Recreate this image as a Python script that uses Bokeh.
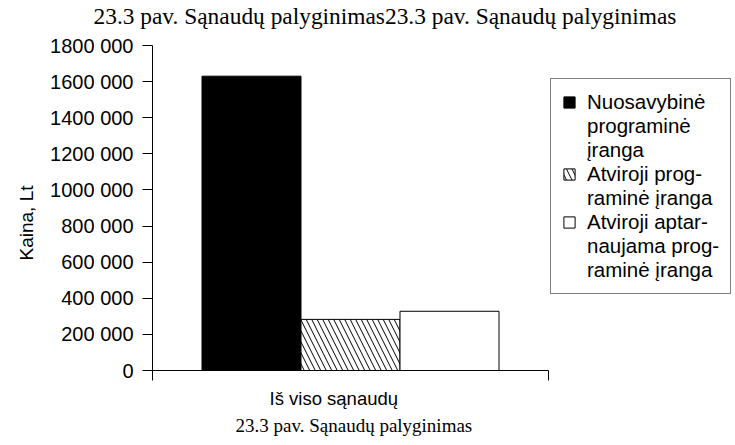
from bokeh.plotting import figure
from bokeh.models import Range1d, FixedTicker, Legend, LegendItem, Title
from bokeh.embed import file_html
from bokeh.resources import INLINE

# ---- data ----
title_text = "23.3 pav. Sąnaudų palyginimas23.3 pav. Sąnaudų palyginimas"
caption_text = "23.3 pav. Sąnaudų palyginimas"
category = "Iš viso sąnaudų"
y_axis_title = "Kaina, Lt"
series_names = [
    ["Nuosavybinė", "programinė", "įranga"],
    ["Atviroji prog-", "raminė įranga"],
    ["Atviroji aptar-", "naujama prog-", "raminė įranga"],
]
series_values = [1630000, 283000, 328000]
y_ticks = [0, 200000, 400000, 600000, 800000, 1000000, 1200000, 1400000, 1600000, 1800000]
y_tick_labels = ["0", "200 000", "400 000", "600 000", "800 000", "1000 000",
                 "1200 000", "1400 000", "1600 000", "1800 000"]

# ---- layout (picture px) ----
W, H = 735, 445
FL, FT, FB = 152, 28, 370      # frame left / top / bottom
AX_T = 45                       # y position of the top tick
AX_R = 548                      # right end of the x axis
YMAX = 1800000
x_end = (W - FL) / (AX_R - FL)
y_end = YMAX * (FB - FT) / (FB - AX_T)

p = figure(width=W, height=H, output_backend="svg", toolbar_location=None,
           x_range=Range1d(0, x_end), y_range=Range1d(0, y_end),
           min_border_left=FL, min_border_right=0,
           min_border_top=FT, min_border_bottom=H - FB)
p.outline_line_color = None
p.xgrid.visible = False
p.ygrid.visible = False
p.background_fill_color = "white"
p.border_fill_color = "white"

styles = [
    dict(fill_color="black", hatch_pattern=None),
    dict(fill_color="white", hatch_pattern="\\"),
    dict(fill_color="white", hatch_pattern=None),
]
n = len(series_values)
bw = 0.75 / n
items = []
blank = p.vbar(x=[], top=[], width=bw, fill_alpha=0, line_alpha=0)
for i, (lines, v, st) in enumerate(zip(series_names, series_values, styles)):
    xc = 0.125 + bw * (i + 0.5)
    kw = dict(x=[xc], top=[v], width=bw, bottom=0, line_color="black", line_width=1,
              fill_color=st["fill_color"])
    if st["hatch_pattern"]:
        kw.update(hatch_pattern=st["hatch_pattern"], hatch_color="black",
                  hatch_weight=1, hatch_scale=11, hatch_alpha=1)
    r = p.vbar(**kw)
    items.append(LegendItem(label=lines[0], renderers=[r]))
    for extra in lines[1:]:
        items.append(LegendItem(label=extra, renderers=[blank]))

# axes
yax = p.yaxis[0]
yax.bounds = (0, YMAX)
yax.ticker = FixedTicker(ticks=y_ticks)
yax.major_label_overrides = {t: l for t, l in zip(y_ticks, y_tick_labels)}
yax.minor_tick_line_color = None
yax.major_tick_in = 0
yax.major_tick_out = 10
yax.axis_line_color = "black"
yax.major_tick_line_color = "black"
yax.major_label_text_font = "Liberation Sans"
yax.major_label_text_font_size = "20px"
yax.major_label_text_color = "black"
yax.major_label_standoff = 9

xax = p.xaxis[0]
xax.bounds = (0, 1)
xax.ticker = FixedTicker(ticks=[0, 1])
xax.major_label_overrides = {0: "", 1: ""}
xax.major_label_text_font_size = "1px"
xax.major_label_standoff = 0
xax.minor_tick_line_color = None
xax.major_tick_in = 0
xax.major_tick_out = 10
xax.axis_line_color = "black"
xax.major_tick_line_color = "black"

# titles
p.add_layout(Title(text=title_text, align="left", offset=93 - FL,
                   text_font="Liberation Serif", text_font_size="23.4px",
                   text_font_style="normal", text_color="black", standoff=0), "above")
p.add_layout(Title(text=category, align="left", offset=269 - FL,
                   text_font="Liberation Sans", text_font_size="18.5px",
                   text_font_style="normal", text_color="black", standoff=10), "below")
p.add_layout(Title(text=caption_text, align="left", offset=235 - FL,
                   text_font="Liberation Serif", text_font_size="19px",
                   text_font_style="normal", text_color="black", standoff=-1), "below")
p.add_layout(Title(text=y_axis_title, align="left", offset=FB - 260,
                   text_font="Liberation Sans", text_font_size="19px",
                   text_font_style="normal", text_color="black", standoff=22), "left")

legend = Legend(items=items, location=(398, FB - 294),
                label_text_font="Liberation Sans", label_text_font_size="20.5px",
                label_text_color="black", label_height=24,
                glyph_width=14, glyph_height=14, label_standoff=11,
                padding=11, spacing=0, margin=0,
                border_line_color="black", border_line_width=1,
                background_fill_color="white", background_fill_alpha=1)
p.add_layout(legend, "center")

open("out.html", "w").write(file_html(p, INLINE))
